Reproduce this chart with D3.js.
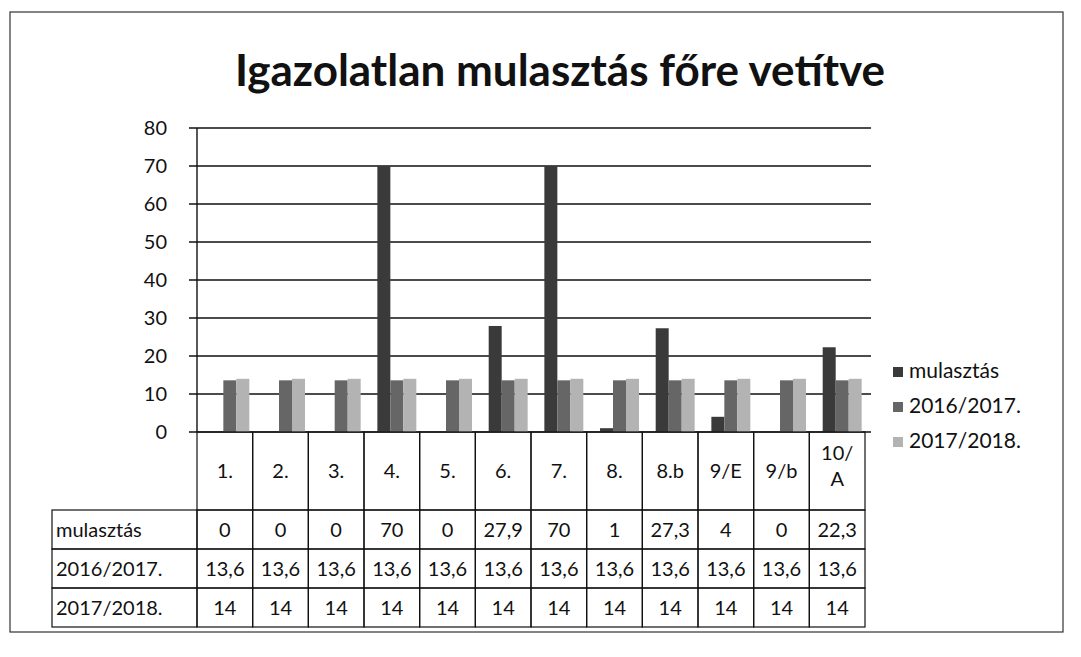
<!DOCTYPE html>
<html>
<head>
<meta charset="utf-8">
<script src="https://cdn.jsdelivr.net/npm/d3@7.9.0/dist/d3.min.js"></script>
<style>
  body { margin: 0; background: #fff; }
  text { font-family: Lato, "Open Sans", sans-serif; fill: #111; }
</style>
</head>
<body>
<svg id="chart" width="1081" height="657"></svg>
<script>
// Data
const categories = ["1.", "2.", "3.", "4.", "5.", "6.", "7.", "8.", "8.b", "9/E", "9/b", "10/A"];
const seriesNames = ["mulasztás", "2016/2017.", "2017/2018."];
const mulasztas = [0, 0, 0, 70, 0, 27.9, 70, 1, 27.3, 4, 0, 22.3];
const ev2016 = [13.6, 13.6, 13.6, 13.6, 13.6, 13.6, 13.6, 13.6, 13.6, 13.6, 13.6, 13.6];
const ev2017 = [14, 14, 14, 14, 14, 14, 14, 14, 14, 14, 14, 14];
const yTicks = [0, 10, 20, 30, 40, 50, 60, 70, 80];

const seriesValues = [mulasztas, ev2016, ev2017];
const colors = ["#3a3a3a", "#666666", "#b3b3b3"];

const svg = d3.select("#chart");

// outer frame of the scanned chart
svg.append("rect")
    .attr("x", 10).attr("y", 12)
    .attr("width", 1053).attr("height", 620)
    .attr("fill", "none")
    .attr("stroke", "#333")
    .attr("stroke-width", 1.2);

// Title
svg.append("text")
    .attr("x", 560)
    .attr("y", 86)
    .attr("text-anchor", "middle")
    .style("font-size", "44px")
    .style("font-weight", "bold")
    .text("Igazolatlan mulasztás főre vetítve");

const plot = { left: 197, right: 865, top: 128, bottom: 432 };

const x = d3.scaleBand()
    .domain(categories)
    .range([plot.left, plot.right]);

const sub = d3.scaleBand()
    .domain(seriesNames)
    .range([x.bandwidth() * 0.24, x.bandwidth() * 0.94]);

const y = d3.scaleLinear()
    .domain([0, 80])
    .range([plot.bottom, plot.top]);

// gridlines
svg.append("g")
    .selectAll("line")
    .data(yTicks)
    .enter()
    .append("line")
    .attr("x1", plot.left - 8)
    .attr("x2", plot.right + 6)
    .attr("y1", d => y(d))
    .attr("y2", d => y(d))
    .attr("stroke", "#111")
    .attr("stroke-width", 1.4);

// y axis line
svg.append("line")
    .attr("x1", plot.left).attr("x2", plot.left)
    .attr("y1", plot.top).attr("y2", plot.bottom)
    .attr("stroke", "#111")
    .attr("stroke-width", 1.4);

// y tick labels
svg.append("g")
    .selectAll("text")
    .data(yTicks)
    .enter()
    .append("text")
    .attr("x", plot.left - 30)
    .attr("y", d => y(d) + 7)
    .attr("text-anchor", "end")
    .style("font-size", "20px")
    .text(d => d);

// bars
const rows = categories.map((c, i) => ({ cat: c, vals: seriesValues.map((s, k) => ({ key: seriesNames[k], value: s[i], k })) }));

svg.append("g")
    .selectAll("g")
    .data(rows)
    .enter()
    .append("g")
    .attr("transform", d => `translate(${x(d.cat)},0)`)
    .selectAll("rect")
    .data(d => d.vals)
    .enter()
    .append("rect")
    .attr("x", d => sub(d.key))
    .attr("y", d => y(d.value))
    .attr("width", sub.bandwidth())
    .attr("height", d => y(0) - y(d.value))
    .attr("fill", d => colors[d.k]);

// data table
const table = svg.append("g");
const labelLeft = 52;
const headerBottom = 510;
const rowH = 39;

// header cells (category names)
categories.forEach(c => {
    table.append("rect")
        .attr("x", x(c)).attr("y", plot.bottom)
        .attr("width", x.bandwidth()).attr("height", headerBottom - plot.bottom)
        .attr("fill", "none").attr("stroke", "#111").attr("stroke-width", 1.2);
    const parts = c === "10/A" ? ["10/", "A"] : [c];
    parts.forEach((p, j) => {
        table.append("text")
            .attr("x", x(c) + x.bandwidth() / 2)
            .attr("y", parts.length === 1 ? 478 : 460 + j * 26)
            .attr("text-anchor", "middle")
            .style("font-size", "20px")
            .text(p);
    });
});

// value rows
seriesNames.forEach((name, k) => {
    const top = headerBottom + k * rowH;
    table.append("rect")
        .attr("x", labelLeft).attr("y", top)
        .attr("width", plot.left - labelLeft).attr("height", rowH)
        .attr("fill", "none").attr("stroke", "#111").attr("stroke-width", 1.2);
    table.append("text")
        .attr("x", labelLeft + 4)
        .attr("y", top + 27)
        .style("font-size", "20px")
        .text(name);
    categories.forEach((c, i) => {
        table.append("rect")
            .attr("x", x(c)).attr("y", top)
            .attr("width", x.bandwidth()).attr("height", rowH)
            .attr("fill", "none").attr("stroke", "#111").attr("stroke-width", 1.2);
        table.append("text")
            .attr("x", x(c) + x.bandwidth() / 2)
            .attr("y", top + 27)
            .attr("text-anchor", "middle")
            .style("font-size", "20px")
            .text(String(seriesValues[k][i]).replace(".", ","));
    });
});

// legend
const legend = svg.append("g").attr("transform", "translate(893,373)");
seriesNames.forEach((name, k) => {
    legend.append("rect")
        .attr("x", 0).attr("y", k * 35 - 6)
        .attr("width", 10).attr("height", 10)
        .attr("fill", colors[k]);
    legend.append("text")
        .attr("x", 16)
        .attr("y", k * 35 + 5)
        .style("font-size", "21px")
        .text(name);
});
</script>
</body>
</html>
